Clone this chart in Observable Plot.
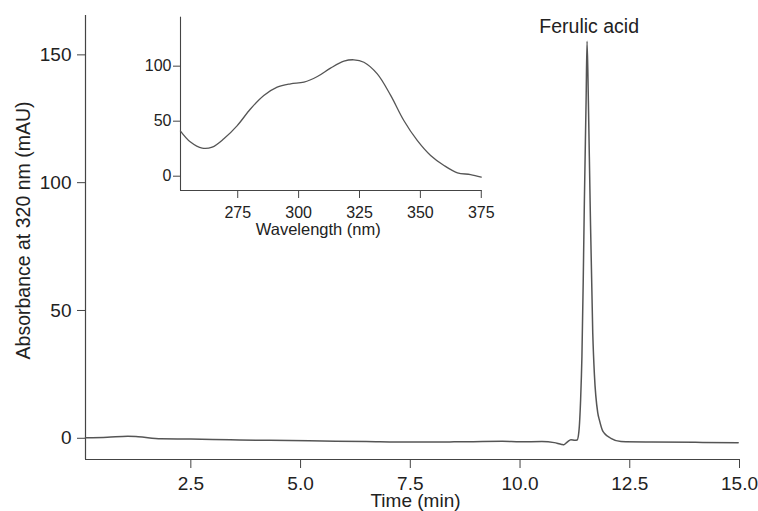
<!DOCTYPE html>
<html>
<head>
<meta charset="utf-8">
<script src="https://cdn.jsdelivr.net/npm/d3@7"></script>
<script src="https://cdn.jsdelivr.net/npm/@observablehq/plot@0.6"></script>
<style>
  html, body { margin: 0; padding: 0; background: white; }
  #wrap { position: relative; width: 758px; height: 511px; font-family: "Liberation Sans", Arial, sans-serif; }
  #wrap svg { position: absolute; background: transparent !important; }
</style>
</head>
<body>
<div id="wrap"></div>
<script>
// ---- Main chromatogram (time in min, absorbance in mAU) ----
const timeMin = [0.1, 0.6, 1.06, 1.3, 1.82, 2.5, 3.4, 4.3, 5.2, 6.5, 7.5, 8.5, 9.6, 10.0, 10.5, 10.78, 10.95, 11.0, 11.08, 11.16, 11.25, 11.30,
  11.34, 11.38, 11.41, 11.44, 11.466, 11.505, 11.527, 11.557, 11.596, 11.657, 11.694, 11.77, 11.81, 11.88, 11.92, 12.07, 12.3, 13.0, 14.0, 14.97];
const absorbance = [0.2, 0.4, 0.8, 0.6, -0.2, -0.3, -0.6, -0.8, -1.0, -1.3, -1.5, -1.4, -1.2, -1.4, -1.3, -1.7, -2.4, -2.5, -1.4, -0.6, -0.8, -0.7,
  2.5, 15, 32, 62, 93, 132, 155.3, 132, 93, 41, 25, 10, 7, 3, 2, 0, -1.3, -1.5, -1.6, -1.7];
const mainXTicks = [2.5, 5.0, 7.5, 10.0, 12.5, 15.0];
const mainYTicks = [0, 50, 100, 150];
const peakName = ["Ferulic acid"];
const peakTime = 11.53;
const peakHeight = 155.3;
const mainXTitle = ["Time (min)"];
const mainYTitle = ["Absorbance at 320 nm (mAU)"];

// ---- Inset UV spectrum (wavelength in nm) ----
const wavelength = [251.5, 255.6, 260.4, 264.5, 269.3, 274.8, 280.3, 285.7, 291.2, 296.7, 302.2, 307.7, 313.1, 318.6, 322.7, 326.8, 332.3, 337.8, 343.2, 348.7, 354.2, 359.7, 365.2, 370.6, 375.0];
const spectrum   = [41, 31, 25.5, 26.4, 34, 46, 61.3, 73.4, 81, 84, 85.5, 90.6, 98.2, 104.5, 105.8, 103.6, 93, 73.4, 50.6, 32.5, 18.8, 9.7, 3.1, 1.5, -0.9];
const insetXTicks = [275, 300, 325, 350, 375];
const insetYTicks = [0, 50, 100];
const insetXTitle = ["Wavelength (nm)"];

const chrom = timeMin.map((t, i) => ({t, a: absorbance[i]}));
const spec = wavelength.map((w, i) => ({w, a: spectrum[i]}));
const peak = peakName.map(name => ({name, t: peakTime, a: peakHeight}));

const axisColor = "#444";
const lineColor = "#555";
const font = "'Liberation Sans', Arial, sans-serif";

const xDom = [0.1, 15.0], yDom = [-8.3, 165.4];
const main = Plot.plot({
  width: 758, height: 511,
  marginLeft: 85, marginRight: 19, marginTop: 15, marginBottom: 52,
  style: {fontFamily: font, fontSize: "19px", color: "#222", background: "transparent"},
  x: {domain: xDom},
  y: {domain: yDom},
  marks: [
    Plot.ruleX([xDom[0]], {stroke: axisColor, strokeWidth: 1.2}),
    Plot.ruleY([yDom[0]], {stroke: axisColor, strokeWidth: 1.2}),
    Plot.axisX({ticks: mainXTicks, tickFormat: d => d.toFixed(1), tickSize: 9, tickPadding: 8, stroke: axisColor, label: null, fontSize: 19}),
    Plot.axisY({ticks: mainYTicks, tickSize: 8, tickPadding: 6, stroke: axisColor, label: null, fontSize: 19}),
    Plot.line(chrom, {x: "t", y: "a", stroke: lineColor, strokeWidth: 1.5, curve: "monotone-x"}),
    Plot.text(peak, {x: "t", y: "a", text: "name", dx: 2, dy: -15, lineAnchor: "middle", fontSize: 19.5, fill: "#222"}),
    Plot.text(mainXTitle, {text: d => d, frameAnchor: "bottom", textAnchor: "middle", dx: 3, dy: 41.5, lineAnchor: "middle", fontSize: 19, fill: "#222"}),
    Plot.text(mainYTitle, {text: d => d, frameAnchor: "left", textAnchor: "middle", rotate: -90, dx: -62, dy: -7, lineAnchor: "middle", fontSize: 19.5, fill: "#222"})
  ]
});
main.style.left = "0px"; main.style.top = "0px";

const ixDom = [251.5, 375.3], iyDom = [-13, 144.5];
const inset = Plot.plot({
  width: 370, height: 245,
  marginLeft: 50, marginRight: 18.5, marginTop: 16.7, marginBottom: 55,
  style: {fontFamily: font, fontSize: "16px", color: "#222", background: "transparent"},
  x: {domain: ixDom},
  y: {domain: iyDom},
  marks: [
    Plot.ruleX([ixDom[0]], {stroke: axisColor, strokeWidth: 1.1}),
    Plot.ruleY([iyDom[0]], {stroke: axisColor, strokeWidth: 1.1}),
    Plot.axisX({ticks: insetXTicks, tickSize: 8, tickPadding: 8, stroke: axisColor, label: null, fontSize: 16}),
    Plot.axisY({ticks: insetYTicks, tickSize: 7, tickPadding: 2, stroke: axisColor, label: null, fontSize: 16}),
    Plot.line(spec, {x: "w", y: "a", stroke: lineColor, strokeWidth: 1.3, curve: "catmull-rom"}),
    Plot.text(insetXTitle, {text: d => d, frameAnchor: "bottom", textAnchor: "middle", dx: -13, dy: 39, lineAnchor: "middle", fontSize: 16.5, fill: "#222"})
  ]
});
inset.style.left = "130px"; inset.style.top = "0px";

const wrap = document.getElementById("wrap");
wrap.appendChild(main);
wrap.appendChild(inset);
</script>
</body>
</html>
